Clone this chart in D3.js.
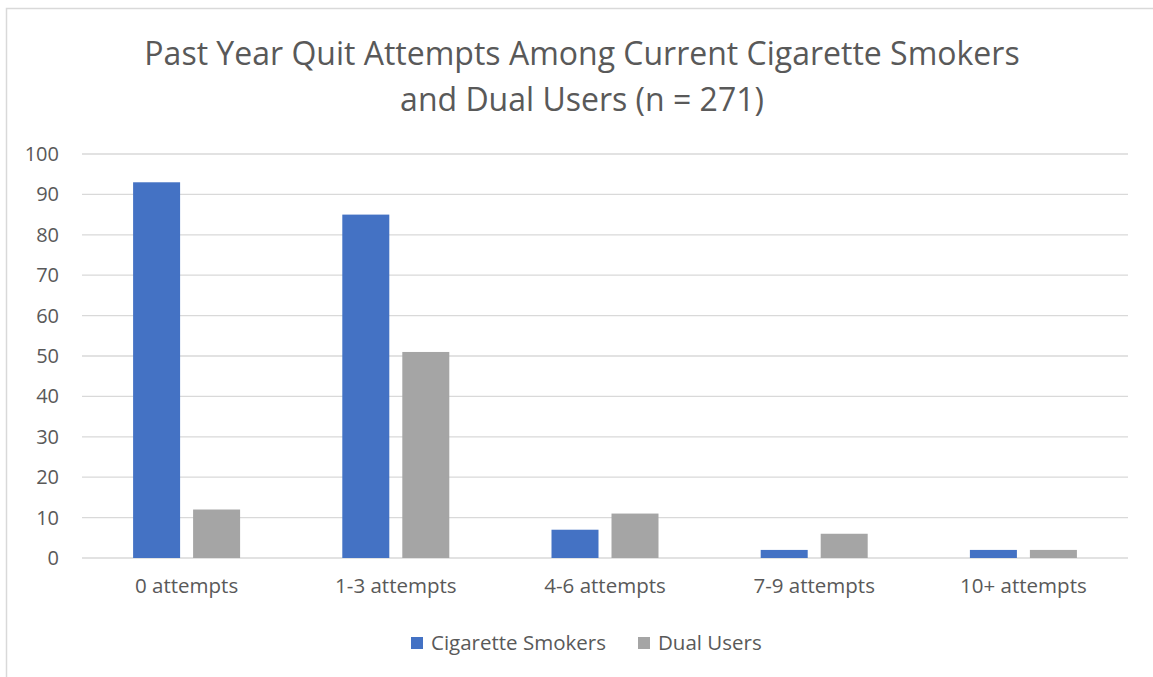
<!DOCTYPE html>
<html>
<head>
<meta charset="utf-8">
<script src="https://cdn.jsdelivr.net/npm/d3@7/dist/d3.min.js"></script>
<style>
  html, body { margin: 0; padding: 0; background: #fff; }
  svg { display: block; font-family: "Open Sans", "Segoe UI", sans-serif; }
</style>
</head>
<body>
<svg id="chart" width="1153" height="677"></svg>
<script>
// Quit attempt groups and counts per user type
const categories = ["0 attempts", "1-3 attempts", "4-6 attempts", "7-9 attempts", "10+ attempts"];
const seriesNames = ["Cigarette Smokers", "Dual Users"];
const cigaretteSmokers = [93, 85, 7, 2, 2];
const dualUsers = [12, 51, 11, 6, 2];
const yTicks = [0, 10, 20, 30, 40, 50, 60, 70, 80, 90, 100];
const titleLines = ["Past Year Quit Attempts Among Current Cigarette Smokers", "and Dual Users (n = 271)"];

const colors = ["#4472C4", "#A5A5A5"];
const textColor = "#595959";

const svg = d3.select("#chart");
const W = 1153, H = 677;

// chart frame
svg.append("rect")
  .attr("x", 6.5).attr("y", 8.5)
  .attr("width", W + 10).attr("height", H + 10)
  .attr("fill", "#fff").attr("stroke", "#D9D9D9").attr("stroke-width", 1.5);

const margin = { left: 82, right: 1128, top: 154, bottom: 558 };

const x0 = d3.scaleBand().domain(categories).range([margin.left, margin.right]).paddingInner(0).paddingOuter(0);
const y = d3.scaleLinear().domain([0, 100]).range([margin.bottom, margin.top]);

// bar layout within each category: two bars with a small gap, centred
const groupW = 107 / 209.2;
const x1 = d3.scaleBand().domain(seriesNames)
  .range([0, x0.bandwidth() * groupW]).paddingInner(13 / 60);

// gridlines
svg.append("g").selectAll("line").data(yTicks).join("line")
  .attr("x1", margin.left).attr("x2", margin.right)
  .attr("y1", d => y(d)).attr("y2", d => y(d))
  .attr("stroke", "#D9D9D9").attr("stroke-width", 1.3);

// y axis labels
const yAxis = d3.axisLeft(y).tickValues(yTicks).tickSize(0).tickPadding(0);
const yg = svg.append("g").attr("transform", `translate(${margin.left - 23},0)`).call(yAxis);
yg.select(".domain").remove();
yg.selectAll("text").attr("fill", textColor).attr("font-size", 20)
  .attr("font-family", "'Open Sans', sans-serif");

// bars
const data = categories.map((c, i) => ({ cat: c, values: [cigaretteSmokers[i], dualUsers[i]] }));
const groups = svg.append("g").selectAll("g").data(data).join("g")
  .attr("transform", d => `translate(${x0(d.cat) + x0.bandwidth() * (1 - groupW) / 2},0)`);
groups.selectAll("rect").data(d => d.values.map((v, j) => ({ name: seriesNames[j], v, j })))
  .join("rect")
  .attr("x", d => x1(d.name))
  .attr("width", x1.bandwidth())
  .attr("y", d => y(d.v))
  .attr("height", d => y(0) - y(d.v))
  .attr("fill", d => colors[d.j]);

// x axis labels
const xAxis = d3.axisBottom(x0).tickSize(0).tickPadding(0);
const xg = svg.append("g").attr("transform", `translate(0,${margin.bottom + 20})`).call(xAxis);
xg.select(".domain").remove();
xg.selectAll("text").attr("fill", textColor).attr("font-size", 20.5)
  .attr("font-family", "'Open Sans', sans-serif").attr("dy", "0.71em");

// title
svg.append("text")
  .attr("x", 582).attr("text-anchor", "middle")
  .attr("fill", textColor).attr("font-size", 32)
  .selectAll("tspan").data(titleLines).join("tspan")
  .attr("x", 582).attr("y", (d, i) => 65 + i * 46)
  .text(d => d);

// legend
const legend = svg.append("g").attr("transform", "translate(0,643)");
const legendX = [411, 638];
seriesNames.forEach((name, i) => {
  legend.append("rect").attr("x", legendX[i]).attr("y", -6).attr("width", 12).attr("height", 12).attr("fill", colors[i]);
  legend.append("text").attr("x", legendX[i] + 20).attr("y", 0).attr("dy", "0.35em")
    .attr("fill", textColor).attr("font-size", 20.5).text(name);
});
</script>
</body>
</html>
